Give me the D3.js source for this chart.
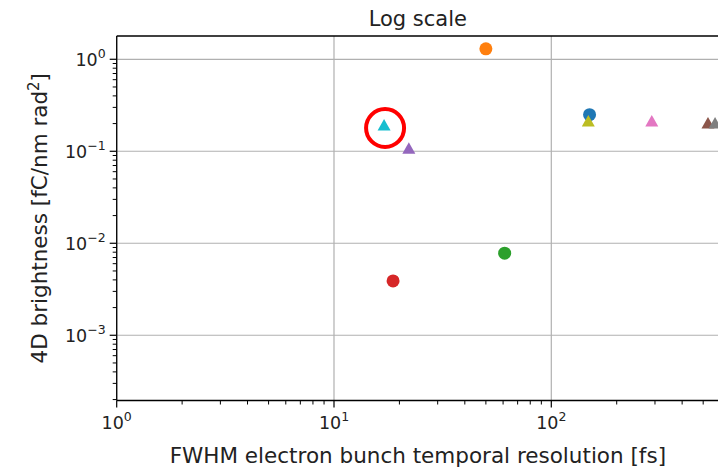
<!DOCTYPE html>
<html>
<head>
<meta charset="utf-8">
<script src="https://cdn.jsdelivr.net/npm/d3@7"></script>
<style>
  html, body { margin: 0; padding: 0; background: #fff; }
  svg { display: block; font-family: "DejaVu Sans", sans-serif; }
</style>
</head>
<body>
<svg id="chart" width="718" height="469"></svg>
<script>
// ---- data ----
const circleLabels = ["blue", "orange", "green", "red"];
const circleX = [150, 50, 61, 18.7];
const circleY = [0.25, 1.3, 0.0078, 0.0039];
const circleColors = ["#1f77b4", "#ff7f0e", "#2ca02c", "#d62728"];

const triLabels = ["purple", "brown", "pink", "gray", "olive", "cyan"];
const triX = [22.1, 526, 290, 567, 148, 17.0];
const triY = [0.108, 0.203, 0.214, 0.203, 0.214, 0.193];
const triColors = ["#9467bd", "#8c564b", "#e377c2", "#7f7f7f", "#bcbd22", "#17becf"];

const xTickExps = [0, 1, 2, 3];
const yTickExps = [0, -1, -2, -3];
const highlightIndex = 5; // cyan triangle circled in red

const title = "Log scale";
const xLabel = "FWHM electron bunch temporal resolution [fs]";
const yLabelMain = "4D brightness [fC/nm rad";
const yLabelSup = "2";
const yLabelEnd = "]";

// ---- layout ----
const W = 718, H = 469;
const m = { left: 116.7, top: 36, right: 719, bottom: 400.5 };

const x = d3.scaleLog().domain([1, Math.pow(10, (m.right - m.left) / 217.3)]).range([m.left, m.right]);
const y = d3.scaleLog().domain([Math.pow(10, -3.709), Math.pow(10, 0.253)]).range([m.bottom, m.top]);

const svg = d3.select("#chart");

svg.append("defs").append("clipPath").attr("id", "clip")
  .append("rect").attr("x", m.left).attr("y", m.top)
  .attr("width", m.right - m.left).attr("height", m.bottom - m.top);

// grid
const grid = svg.append("g").attr("clip-path", "url(#clip)");
xTickExps.forEach(e => {
  const v = Math.pow(10, e);
  grid.append("line").attr("x1", x(v)).attr("x2", x(v)).attr("y1", m.top).attr("y2", m.bottom)
    .attr("stroke", "#b0b0b0").attr("stroke-width", 1.2);
});
yTickExps.forEach(e => {
  const v = Math.pow(10, e);
  grid.append("line").attr("x1", m.left).attr("x2", m.right).attr("y1", y(v)).attr("y2", y(v))
    .attr("stroke", "#b0b0b0").attr("stroke-width", 1.2);
});

// minor ticks values
function minorVals(scale) {
  const [a, b] = scale.domain();
  const out = [];
  for (let e = Math.floor(Math.log10(a)); e <= Math.ceil(Math.log10(b)); e++) {
    for (let k = 2; k <= 9; k++) {
      const v = k * Math.pow(10, e);
      if (v >= a && v <= b) out.push(v);
    }
  }
  return out;
}

const tickFont = 17.5, supFont = 12.5;

// x axis
const xAxis = svg.append("g").attr("transform", `translate(0,${m.bottom})`);
minorVals(x).forEach(v => {
  xAxis.append("line").attr("x1", x(v)).attr("x2", x(v)).attr("y1", 0).attr("y2", 4)
    .attr("stroke", "#000").attr("stroke-width", 1);
});
xTickExps.forEach(e => {
  const v = Math.pow(10, e);
  if (x(v) > W + 5) return;
  xAxis.append("line").attr("x1", x(v)).attr("x2", x(v)).attr("y1", 0).attr("y2", 7)
    .attr("stroke", "#000").attr("stroke-width", 1.2);
  const t = xAxis.append("text").attr("x", x(v)).attr("y", 28).attr("text-anchor", "middle")
    .attr("font-size", tickFont).attr("fill", "#222");
  t.append("tspan").text("10");
  t.append("tspan").attr("dy", -7.5).attr("font-size", supFont).text(String(e).replace("-", "\u2212"));
});

// y axis
const yAxis = svg.append("g").attr("transform", `translate(${m.left},0)`);
minorVals(y).forEach(v => {
  yAxis.append("line").attr("x1", 0).attr("x2", -4).attr("y1", y(v)).attr("y2", y(v))
    .attr("stroke", "#000").attr("stroke-width", 1);
});
yTickExps.forEach(e => {
  const v = Math.pow(10, e);
  yAxis.append("line").attr("x1", 0).attr("x2", -7).attr("y1", y(v)).attr("y2", y(v))
    .attr("stroke", "#000").attr("stroke-width", 1.2);
  const t = yAxis.append("text").attr("x", -11).attr("y", y(v) + 6.5).attr("text-anchor", "end")
    .attr("font-size", tickFont).attr("fill", "#222");
  t.append("tspan").text("10");
  t.append("tspan").attr("dy", -7.5).attr("font-size", supFont).text(String(e).replace("-", "\u2212"));
});

// spines
svg.append("line").attr("x1", m.left).attr("x2", m.left).attr("y1", m.top).attr("y2", m.bottom)
  .attr("stroke", "#000").attr("stroke-width", 1.3);
svg.append("line").attr("x1", m.left).attr("x2", m.right).attr("y1", m.bottom).attr("y2", m.bottom)
  .attr("stroke", "#000").attr("stroke-width", 1.3);
svg.append("line").attr("x1", m.left).attr("x2", m.right).attr("y1", m.top).attr("y2", m.top)
  .attr("stroke", "#000").attr("stroke-width", 1.3);
svg.append("line").attr("x1", m.right).attr("x2", m.right).attr("y1", m.top).attr("y2", m.bottom)
  .attr("stroke", "#000").attr("stroke-width", 1.3);

// markers
const marks = svg.append("g").attr("clip-path", "url(#clip)");
circleX.forEach((xv, i) => {
  marks.append("circle").attr("cx", x(xv)).attr("cy", y(circleY[i])).attr("r", 6.5)
    .attr("fill", circleColors[i]);
});
triX.forEach((xv, i) => {
  const tx = x(xv), ty = y(triY[i]);
  marks.append("path").attr("d", `M${tx},${ty - 6} L${tx + 6.5},${ty + 5.5} L${tx - 6.5},${ty + 5.5} Z`)
    .attr("fill", triColors[i]);
});

// highlight
svg.append("circle").attr("cx", x(triX[highlightIndex]) + 1).attr("cy", y(triY[highlightIndex]) + 3)
  .attr("r", 19).attr("fill", "none").attr("stroke", "#ff0000").attr("stroke-width", 4);

// title & labels
svg.append("text").attr("x", (m.left + m.right) / 2).attr("y", 26).attr("text-anchor", "middle")
  .attr("font-size", 21).attr("fill", "#222").text(title);
svg.append("text").attr("x", (m.left + m.right) / 2).attr("y", 463).attr("text-anchor", "middle")
  .attr("font-size", 21.5).attr("fill", "#222").text(xLabel);
const yl = svg.append("text").attr("transform", `translate(47,${(m.top + m.bottom) / 2}) rotate(-90)`)
  .attr("text-anchor", "middle").attr("font-size", 21.5).attr("fill", "#222");
yl.append("tspan").text(yLabelMain);
yl.append("tspan").attr("dy", -8.5).attr("font-size", 15).text(yLabelSup);
yl.append("tspan").attr("dy", 8.5).text(yLabelEnd);
</script>
</body>
</html>
